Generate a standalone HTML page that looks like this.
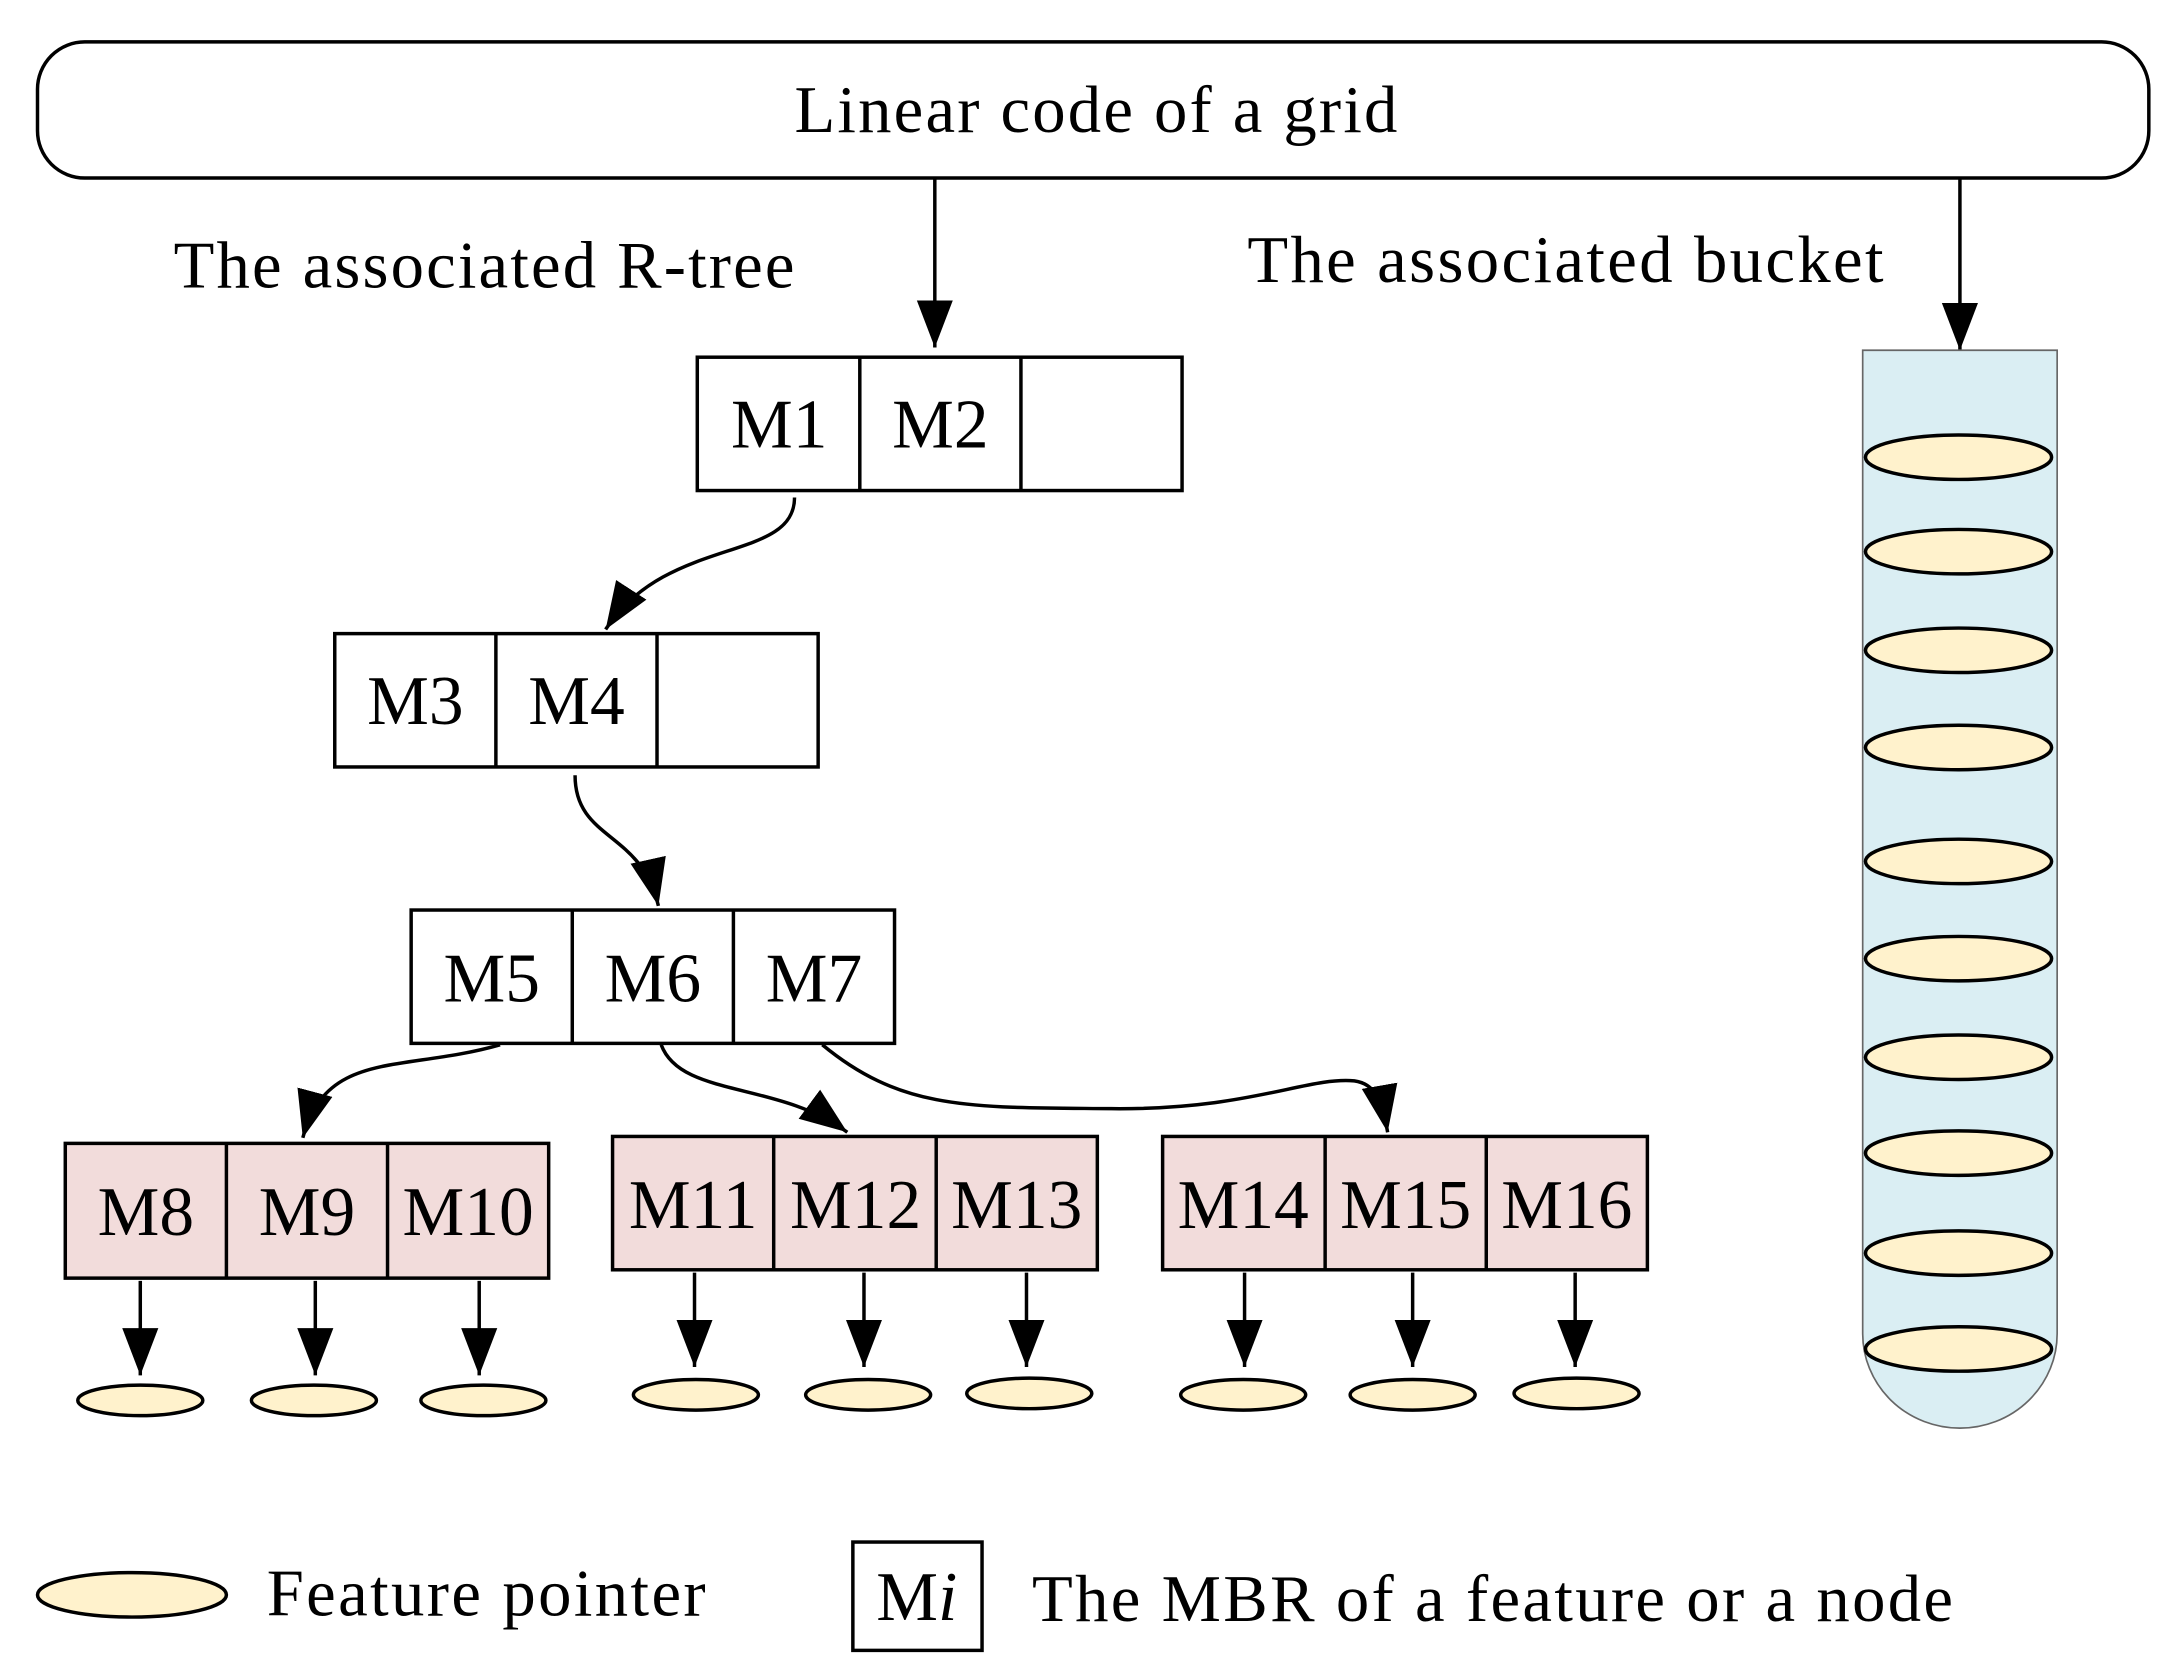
<!DOCTYPE html>
<html><head><meta charset="utf-8"><style>
html,body{margin:0;padding:0;background:#fff;}
svg{display:block;}
text{font-family:"Liberation Serif",serif;fill:#000;}
</style></head><body>
<svg width="2178" height="1677" viewBox="0 0 1568 1207" xmlns="http://www.w3.org/2000/svg">
<defs>
<marker id="ah" markerUnits="userSpaceOnUse" markerWidth="36" markerHeight="30" refX="34" refY="15" orient="auto">
<polygon points="0,2 34,15 0,28" fill="#000"/>
</marker>
</defs>
<rect width="1568" height="1207" fill="#fff"/>
<rect x="27" y="30" width="1520" height="98" rx="34" fill="#fff" stroke="#000" stroke-width="2.5"/>
<text x="572" y="95" font-size="48" textLength="434" lengthAdjust="spacing">Linear code of a grid</text>
<g stroke="#000" stroke-width="2.5" fill="none">
<line x1="673" y1="128" x2="673" y2="250" marker-end="url(#ah)"/>
<line x1="1411" y1="128" x2="1411" y2="252" marker-end="url(#ah)"/>
</g>
<text x="125" y="207" font-size="48" textLength="447" lengthAdjust="spacing">The associated R-tree</text>
<text x="898" y="203" font-size="48" textLength="458" lengthAdjust="spacing">The associated bucket</text>

<!-- bucket -->
<path d="M1341,252 H1481 V960 A70,68 0 0 1 1341,960 Z" fill="#daeef3" stroke="#666" stroke-width="1.2"/>
<g fill="#fff2cc" stroke="#000" stroke-width="2.5">
<ellipse cx="1410" cy="329" rx="67" ry="16"/>
<ellipse cx="1410" cy="397" rx="67" ry="16"/>
<ellipse cx="1410" cy="468" rx="67" ry="16"/>
<ellipse cx="1410" cy="538" rx="67" ry="16"/>
<ellipse cx="1410" cy="620" rx="67" ry="16"/>
<ellipse cx="1410" cy="690" rx="67" ry="16"/>
<ellipse cx="1410" cy="761" rx="67" ry="16"/>
<ellipse cx="1410" cy="830" rx="67" ry="16"/>
<ellipse cx="1410" cy="902" rx="67" ry="16"/>
<ellipse cx="1410" cy="971" rx="67" ry="16"/>
</g>

<!-- nodes -->
<g stroke="#000" stroke-width="2.5">
<rect x="502" y="257" width="349" height="96" fill="#fff"/>
<line x1="619" y1="257" x2="619" y2="353"/><line x1="735" y1="257" x2="735" y2="353"/>
<rect x="241" y="456" width="348" height="96" fill="#fff"/>
<line x1="357" y1="456" x2="357" y2="552"/><line x1="473" y1="456" x2="473" y2="552"/>
<rect x="296" y="655" width="348" height="96" fill="#fff"/>
<line x1="412" y1="655" x2="412" y2="751"/><line x1="528" y1="655" x2="528" y2="751"/>
<rect x="47" y="823" width="348" height="97" fill="#f2dcdb"/>
<line x1="163" y1="823" x2="163" y2="920"/><line x1="279" y1="823" x2="279" y2="920"/>
<rect x="441" y="818" width="349" height="96" fill="#f2dcdb"/>
<line x1="557" y1="818" x2="557" y2="914"/><line x1="674" y1="818" x2="674" y2="914"/>
<rect x="837" y="818" width="349" height="96" fill="#f2dcdb"/>
<line x1="954" y1="818" x2="954" y2="914"/><line x1="1070" y1="818" x2="1070" y2="914"/>
</g>
<g font-size="50" text-anchor="middle">
<text x="561" y="322">M1</text><text x="677" y="322">M2</text>
<text x="299" y="521">M3</text><text x="415" y="521">M4</text>
<text x="354" y="721">M5</text><text x="470" y="721">M6</text><text x="586" y="721">M7</text>
<text x="105" y="889">M8</text><text x="221" y="889">M9</text><text x="337" y="889">M10</text>
<text x="499" y="884">M11</text><text x="616" y="884">M12</text><text x="732" y="884">M13</text>
<text x="895" y="884">M14</text><text x="1012" y="884">M15</text><text x="1128" y="884">M16</text>
</g>

<!-- curved arrows -->
<g stroke="#000" stroke-width="2.5" fill="none">
<path d="M572,358 C572,405 480,385 436,453" marker-end="url(#ah)"/>
<path d="M414,558 C414,605 462,598 474,652" marker-end="url(#ah)"/>
<path d="M360,752 C290,772 235,755 218,819" marker-end="url(#ah)"/>
<path d="M476,752 C490,790 560,778 610,815" marker-end="url(#ah)"/>
<path d="M592,752 C650,800 700,797 800,798 C900,799 940,775 975,778 C990,780 995,792 999,815" marker-end="url(#ah)"/>
<!-- leaf arrows -->
<line x1="101" y1="922" x2="101" y2="990" marker-end="url(#ah)"/>
<line x1="227" y1="922" x2="227" y2="990" marker-end="url(#ah)"/>
<line x1="345" y1="922" x2="345" y2="990" marker-end="url(#ah)"/>
<line x1="500" y1="916" x2="500" y2="984" marker-end="url(#ah)"/>
<line x1="622" y1="916" x2="622" y2="984" marker-end="url(#ah)"/>
<line x1="739" y1="916" x2="739" y2="984" marker-end="url(#ah)"/>
<line x1="896" y1="916" x2="896" y2="984" marker-end="url(#ah)"/>
<line x1="1017" y1="916" x2="1017" y2="984" marker-end="url(#ah)"/>
<line x1="1134" y1="916" x2="1134" y2="984" marker-end="url(#ah)"/>
</g>
<g fill="#fff2cc" stroke="#000" stroke-width="2.5">
<ellipse cx="101" cy="1008" rx="45" ry="11"/>
<ellipse cx="226" cy="1008" rx="45" ry="11"/>
<ellipse cx="348" cy="1008" rx="45" ry="11"/>
<ellipse cx="501" cy="1004" rx="45" ry="11"/>
<ellipse cx="625" cy="1004" rx="45" ry="11"/>
<ellipse cx="741" cy="1003" rx="45" ry="11"/>
<ellipse cx="895" cy="1004" rx="45" ry="11"/>
<ellipse cx="1017" cy="1004" rx="45" ry="11"/>
<ellipse cx="1135" cy="1003" rx="45" ry="11"/>
<ellipse cx="95" cy="1148" rx="68" ry="16"/>
</g>

<!-- legend -->
<text x="192" y="1163" font-size="48" textLength="316" lengthAdjust="spacing">Feature pointer</text>
<rect x="614" y="1110" width="93" height="78" fill="#fff" stroke="#000" stroke-width="2.5"/>
<text x="660" y="1166" font-size="50" text-anchor="middle">M<tspan font-style="italic">i</tspan></text>
<text x="743" y="1167" font-size="48" textLength="663" lengthAdjust="spacing">The MBR of a feature or a node</text>
</svg>
</body></html>
